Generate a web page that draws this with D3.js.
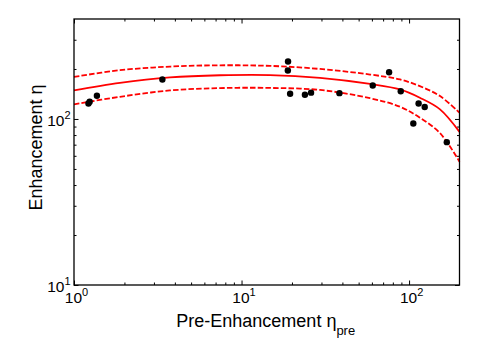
<!DOCTYPE html>
<html><head><meta charset="utf-8">
<script src="https://cdn.jsdelivr.net/npm/d3@7"></script>
<style>
body{margin:0;background:#fff;}
svg{display:block;font-family:"Liberation Sans",Arial,sans-serif;}
</style></head>
<body><svg id="c" width="498" height="347"></svg>
<script>
// Data
const pointsX = [1.22, 1.24, 1.37, 3.37, 18.9, 18.95, 19.5, 23.9, 26.0, 38.4, 60.7, 76.0, 89.2, 106, 114, 124, 168];
const pointsY = [124, 127, 138, 173, 196, 222, 142, 140, 144, 143, 159, 191, 147, 94, 124, 118, 72.5];
const curveX = [1, 1.88, 3.74, 7.44, 14.8, 29.4, 58.5, 88.3, 116, 153, 200];
const fitY   = [148.5, 165, 178, 183.4, 183.9, 176.7, 162.5, 150.6, 134.2, 114.3, 83.6];
const upperY = [179.2, 196.6, 206.8, 210.5, 208.8, 200.1, 185.2, 172.9, 157.6, 137.3, 109.1];
const lowerY = [122.5, 136, 148.5, 153.4, 153.8, 149.5, 133.3, 118.5, 101.8, 82.1, 55.3];
const xMajor = [1, 10, 100];
const yMajor = [10, 100];
const xMinor = [2,3,4,5,6,7,8,9,20,30,40,50,60,70,80,90];
const yMinor = [20,30,40,50,60,70,80,90,200,300];
const xLabel = "Pre-Enhancement η";
const xLabelSub = "pre";
const yLabel = "Enhancement η";

const svg = d3.select("#c");
const L = 74, R = 459.5, T = 19, B = 285;
const x = d3.scaleLog().domain([1, 200]).range([L, R]);
const y = d3.scaleLog().domain([10, 400]).range([B, T]);
const W = R - L, H = B - T;

// ticks (inside, on all four sides)
function tickAxis(axisFn, scale, vals, size, tr) {
  const g = svg.append("g").attr("transform", tr)
    .call(axisFn(scale).tickValues(vals).tickSize(size).tickFormat(""));
  g.select(".domain").remove();
  g.selectAll("line").attr("stroke", "#000").attr("stroke-width", 1);
}
tickAxis(d3.axisBottom, x, xMajor, -4.5, `translate(0,${B})`);
tickAxis(d3.axisBottom, x, xMinor, -2.5, `translate(0,${B})`);
tickAxis(d3.axisTop, x, xMajor, -4.5, `translate(0,${T})`);
tickAxis(d3.axisTop, x, xMinor, -2.5, `translate(0,${T})`);
tickAxis(d3.axisLeft, y, yMajor, -4.5, `translate(${L},0)`);
tickAxis(d3.axisLeft, y, yMinor, -2.5, `translate(${L},0)`);
tickAxis(d3.axisRight, y, yMajor, -4.5, `translate(${R},0)`);
tickAxis(d3.axisRight, y, yMinor, -2.5, `translate(${R},0)`);

// curves
const lineGen = arr => d3.line().x((d, i) => x(curveX[i])).y(d => y(d)).curve(d3.curveCatmullRom.alpha(0.5))(arr);
svg.append("path").attr("d", lineGen(upperY)).attr("fill", "none").attr("stroke", "#ff0000").attr("stroke-width", 1.8).attr("stroke-dasharray", "5.5,2.2");
svg.append("path").attr("d", lineGen(lowerY)).attr("fill", "none").attr("stroke", "#ff0000").attr("stroke-width", 1.8).attr("stroke-dasharray", "5.5,2.2");
svg.append("path").attr("d", lineGen(fitY)).attr("fill", "none").attr("stroke", "#ff0000").attr("stroke-width", 1.8);

// points
svg.append("g").selectAll("circle").data(pointsX).join("circle")
  .attr("cx", d => x(d)).attr("cy", (d, i) => y(pointsY[i])).attr("r", 3.2).attr("fill", "#000");

// frame
svg.append("rect").attr("x", L).attr("y", T).attr("width", W).attr("height", H)
  .attr("fill", "none").attr("stroke", "#000").attr("stroke-width", 1.3);

// tick labels
function pow(v){ return Math.round(Math.log10(v)); }
xMajor.forEach(v => {
  const t = svg.append("text").attr("x", x(v) + 2.5).attr("y", B + 18).attr("text-anchor", "middle").attr("font-size", 15.5);
  t.append("tspan").text("10");
  t.append("tspan").attr("font-size", 11).attr("dy", -7).text(pow(v));
});
yMajor.forEach(v => {
  const t = svg.append("text").attr("x", L - 3.5).attr("y", y(v) + 7).attr("text-anchor", "end").attr("font-size", 15.5);
  t.append("tspan").text("10");
  t.append("tspan").attr("font-size", 11).attr("dy", -7).text(pow(v));
});

// axis labels
const xl = svg.append("text").attr("x", (L + R) / 2 - 1).attr("y", 327).attr("text-anchor", "middle").attr("font-size", 18);
xl.append("tspan").text(xLabel);
xl.append("tspan").attr("font-size", 13).attr("dy", 8).text(xLabelSub);
svg.append("text").attr("transform", `translate(41.5,147.5) rotate(-90)`)
  .attr("text-anchor", "middle").attr("font-size", 18).text(yLabel);
</script></body></html>
